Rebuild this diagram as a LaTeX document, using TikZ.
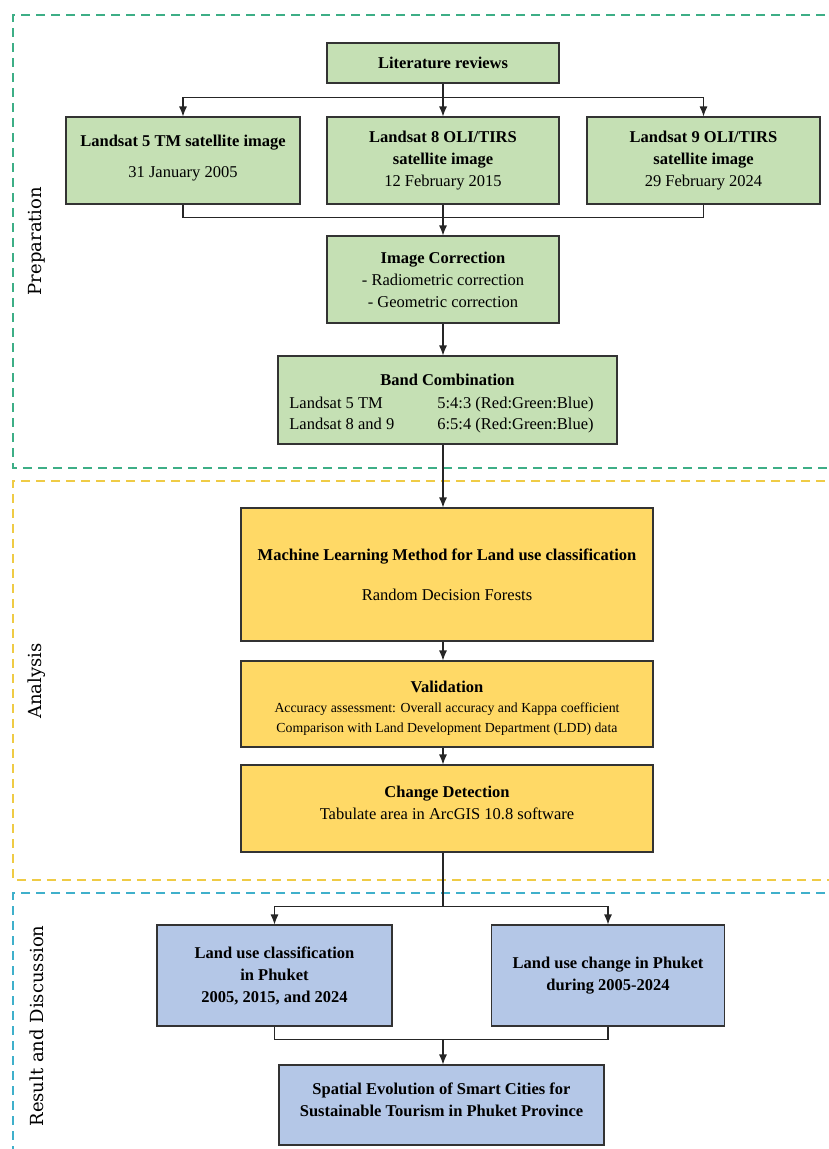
\documentclass[tikz,border=0pt]{standalone}
\usepackage{fontspec}
\setmainfont{Liberation Serif}
\newfontfamily\sidefont{DejaVu Serif}
\usepackage{xcolor}
\usepackage{tikz}
\usetikzlibrary{arrows.meta}
\usetikzlibrary{calc}

\definecolor{prepfill}{HTML}{C5E0B4}
\definecolor{anafill}{HTML}{FFD966}
\definecolor{resfill}{HTML}{B4C7E7}
\definecolor{prepdash}{HTML}{3DAE86}
\definecolor{anadash}{HTML}{EFCB45}
\definecolor{resdash}{HTML}{3FB0CB}
\newcommand{\smalltxt}{\fontsize{13.8}{20}\selectfont}

\begin{document}
\begin{tikzpicture}[x=1pt,y=-1pt,
    box/.style={draw=black!80,line width=1.1pt,inner sep=0pt,align=center,
                font=\fontsize{16.5}{22}\selectfont},
    prepbox/.style={box,fill=prepfill},
    anabox/.style={box,fill=anafill},
    resbox/.style={box,fill=resfill},
    sectionframe/.style={line width=2.2pt,dash pattern=on 9pt off 6pt},
    sidelabel/.style={rotate=90,font=\sidefont\fontsize{18}{22}\selectfont},
    conn/.style={line width=1.1pt,draw=black!85},
    arr/.style={conn,-{Latex[length=10pt,width=8pt]}}]
            \useasboundingbox (0,0) rectangle (829,1149);
            \clip (0,0) rectangle (829,1149);
            %\draw[help lines] (0,0) grid[step=50] (829,1149);
            % dashed section frames
            \draw[sectionframe,draw=prepdash] (840,15)--(13,15)--(13,468)--(840,468);
            \draw[sectionframe,draw=anadash] (840,481)--(13,481)--(13,880)--(840,880);
            \draw[sectionframe,draw=resdash] (840,893)--(13,893)--(13,1160);
            \node[sidelabel] (prep) at (37,241) {Preparation};
            \node[sidelabel] (ana) at (37,681) {Analysis};
            \node[sidelabel] (res) at (37,1026) {Result and Discussion};
            % preparation
            \node[prepbox,minimum width=232,minimum height=40] (lit) at (443,63) {\textbf{Literature reviews}};
            \node[prepbox,minimum width=234,minimum height=87] (ls5) at (183,160.5)
                {\textbf{Landsat 5 TM satellite image}\\[9pt]31 January 2005\\[-14pt]};
            \node[prepbox,minimum width=232,minimum height=87] (ls8) at (443,160.5)
                {\textbf{Landsat 8 OLI/TIRS}\\\textbf{satellite image}\\12 February 2015};
            \node[prepbox,minimum width=233,minimum height=87] (ls9) at (703.5,160.5)
                {\textbf{Landsat 9 OLI/TIRS}\\\textbf{satellite image}\\29 February 2024};
            \node[prepbox,minimum width=232,minimum height=87] (corr) at (443,279.5)
                {\textbf{Image Correction}\\- Radiometric correction\\- Geometric correction};
            \node[prepbox,minimum width=339,minimum height=88] (band) at (447.5,400)
                {\textbf{Band Combination}\\[1pt]
                 \begin{tabular}[t]{@{}p{148pt}@{}l@{\hspace{12pt}}}
                 Landsat 5 TM & 5:4:3 (Red:Green:Blue)\\[-1pt]
                 Landsat 8 and 9 & 6:5:4 (Red:Green:Blue)
                 \end{tabular}\\[-12pt]};
            % analysis
            \node[anabox,minimum width=412,minimum height=133] (ml) at (447,574.5)
                {\textbf{Machine Learning Method for Land use classification}\\[18pt]Random Decision Forests};
            \node[anabox,minimum width=412,minimum height=86] (val) at (447,704)
                {\textbf{Validation}\\[-2pt]
                 \smalltxt Accuracy assessment: Overall accuracy and Kappa coefficient\\[-2pt]
                 \smalltxt Comparison with Land Development Department (LDD) data\\[-28pt]};
            \node[anabox,minimum width=412,minimum height=87] (chg) at (447,808.5)
                {\textbf{Change Detection}\\Tabulate area in ArcGIS 10.8 software\\[-10pt]};
            % result and discussion
            \node[resbox,minimum width=235,minimum height=101] (luc) at (274.5,975.5)
                {\textbf{Land use classification}\\\textbf{in Phuket}\\\textbf{2005, 2015, and 2024}};
            \node[resbox,minimum width=233,minimum height=101] (lucchg) at (608,975.5)
                {\textbf{Land use change in Phuket}\\\textbf{during 2005-2024}};
            \node[resbox,minimum width=325,minimum height=80] (spatial) at (441.5,1105)
                {\textbf{Spatial Evolution of Smart Cities for}\\\textbf{Sustainable Tourism in Phuket Province}\\[-12pt]};
            % connectors
            \draw[conn] (lit.south) -- ++(0,14) coordinate (splitA);
            \draw[arr] (splitA) -| (ls5.north);
            \draw[arr] (splitA) -| (ls9.north);
            \draw[arr] (lit) -- (ls8);
            \draw[conn] (ls5.south) -- ++(0,13) -| (ls9.south);
            \draw[arr] (ls8) -- (corr);
            \draw[arr] (corr.south) -- (band.north -| corr.south);
            \draw[arr] (band.south -| lit.south) -- (ml.north -| lit.south);
            \draw[arr] (ml.south -| lit.south) -- (val.north -| lit.south);
            \draw[arr] (val.south -| lit.south) -- (chg.north -| lit.south);
            \draw[conn] (chg.south -| lit.south) -- ++(0,54) coordinate (splitB);
            \draw[arr] (splitB) -| (luc.north);
            \draw[arr] (splitB) -| (lucchg.north);
            \draw[conn] (luc.south) -- ++(0,13) coordinate (mergeB) -| (lucchg.south);
            \draw[arr] (mergeB -| lit.south) -- (spatial.north -| lit.south);
\end{tikzpicture}
\end{document}
